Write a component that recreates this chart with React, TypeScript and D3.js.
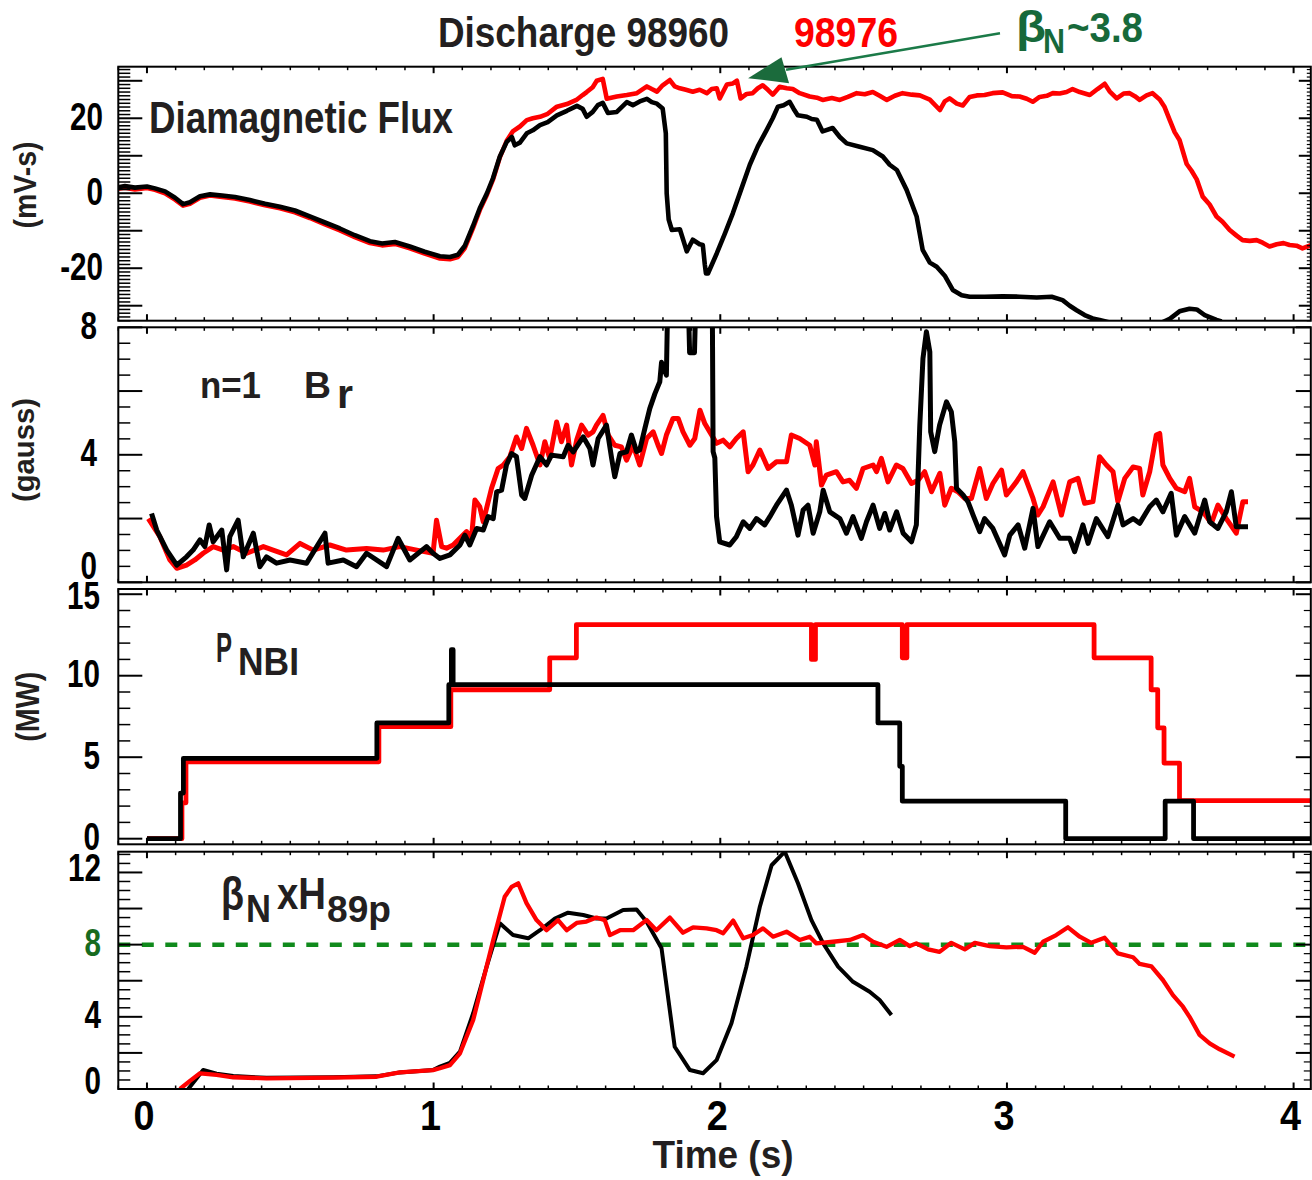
import React, { useEffect } from "react";
import * as d3 from "d3";

type Pt = [number, number];

// ---------- tick labels ----------
const TIME_TICKS = [0, 1, 2, 3, 4];
const DIA_TICKS = [-20, 0, 20];
const BR_TICKS = [0, 4, 8];
const PNBI_TICKS = [0, 5, 10, 15];
const BETA_TICKS = [0, 4, 8, 12];
const BETA_REF = 8;
const SHOT_A = "98960";
const SHOT_B = "98976";

// ---------- Diamagnetic flux (mV-s) ----------
const DIA_98960: Pt[] = [[-0.101,1.6],[-0.077,1.9],[-0.042,1.5],[0,1.8],[0.028,1.3],[0.063,0.5],[0.098,-1.2],[0.126,-2.9],[0.150,-2.4],[0.185,-0.8],[0.220,-0.3],[0.262,-0.6],[0.307,-1.0],[0.359,-1.8],[0.412,-2.8],[0.464,-3.6],[0.516,-4.6],[0.568,-6.2],[0.621,-7.8],[0.673,-9.4],[0.725,-11.2],[0.778,-12.8],[0.820,-13.4],[0.865,-13.0],[0.917,-14.2],[0.969,-15.6],[1.022,-16.8],[1.057,-17.0],[1.085,-16.4],[1.109,-14.0],[1.137,-8.8],[1.161,-4.0],[1.186,0],[1.207,4.0],[1.231,9.8],[1.255,13.7],[1.273,15.0],[1.283,12.8],[1.301,13.5],[1.325,16.0],[1.346,16.8],[1.371,18.2],[1.398,19.0],[1.430,20.8],[1.465,22.0],[1.500,23.3],[1.520,22.5],[1.534,20.4],[1.555,21.7],[1.573,23.5],[1.590,24.1],[1.608,21.4],[1.639,21.7],[1.674,24.3],[1.695,23.5],[1.719,24.5],[1.744,25.2],[1.761,24.3],[1.779,23.9],[1.799,22.6],[1.810,16.0],[1.813,0],[1.820,-7],[1.831,-9.8],[1.859,-9.6],[1.873,-13.0],[1.883,-15.5],[1.904,-12.4],[1.928,-13.6],[1.939,-13.8],[1.946,-19.0],[1.950,-21.4],[1.957,-21.4],[1.988,-16.0],[2.016,-10.8],[2.044,-5.3],[2.075,1.5],[2.103,7.6],[2.131,12.5],[2.162,16.9],[2.183,20.0],[2.201,23.1],[2.221,23.5],[2.242,24.4],[2.256,22.5],[2.270,20.8],[2.302,20.4],[2.319,19.8],[2.337,19.6],[2.357,16.5],[2.392,17.4],[2.417,15.0],[2.441,13.3],[2.486,12.4],[2.532,11.5],[2.567,9.8],[2.591,7.6],[2.616,6.2],[2.650,0.9],[2.685,-6.2],[2.706,-15.1],[2.731,-18.5],[2.755,-19.6],[2.783,-22.0],[2.811,-25.8],[2.842,-27.2],[2.870,-27.6],[2.922,-27.6],[2.985,-27.5],[3.044,-27.6],[3.104,-27.8],[3.156,-27.6],[3.194,-28.5],[3.219,-30.0],[3.243,-31.2],[3.271,-32.5],[3.299,-33.4],[3.323,-33.8],[3.358,-34.5],[3.428,-36],[3.498,-36],[3.540,-34.5],[3.568,-33.5],[3.602,-31.5],[3.637,-30.8],[3.662,-31.0],[3.690,-32.5],[3.731,-33.8],[3.749,-34.2]];

const DIA_98976: Pt[] = [[-0.101,1.2],[-0.077,1.5],[-0.042,1.0],[0,1.4],[0.028,0.9],[0.063,0.0],[0.098,-1.7],[0.126,-3.3],[0.150,-2.8],[0.185,-1.2],[0.220,-0.6],[0.262,-1.0],[0.307,-1.4],[0.359,-2.2],[0.412,-3.2],[0.464,-4.0],[0.516,-5.1],[0.568,-6.6],[0.621,-8.3],[0.673,-9.9],[0.725,-11.7],[0.778,-13.3],[0.820,-13.9],[0.865,-13.5],[0.917,-14.7],[0.969,-16.1],[1.022,-17.4],[1.057,-17.6],[1.085,-17.0],[1.109,-14.6],[1.137,-9.4],[1.161,-4.5],[1.186,-0.4],[1.207,3.6],[1.231,9.6],[1.255,14.0],[1.276,16.5],[1.301,17.8],[1.325,19.5],[1.346,20.0],[1.371,20.4],[1.398,21.2],[1.430,23.1],[1.465,23.8],[1.500,25.0],[1.520,26.2],[1.534,27.0],[1.555,28.3],[1.569,30.0],[1.590,30.5],[1.604,25.2],[1.639,25.8],[1.674,26.2],[1.709,26.7],[1.744,28.5],[1.761,27.8],[1.779,27.1],[1.799,28.8],[1.824,30.2],[1.841,28.5],[1.859,28.0],[1.880,27.6],[1.904,27.1],[1.928,27.6],[1.953,26.7],[1.970,27.8],[1.988,28.0],[1.998,25.3],[2.023,29.0],[2.044,29.3],[2.058,30.0],[2.071,25.3],[2.092,26.5],[2.113,26.7],[2.131,28.0],[2.148,28.8],[2.166,27.6],[2.183,26.3],[2.207,28.4],[2.232,28.0],[2.253,27.8],[2.277,26.7],[2.312,25.8],[2.337,25.5],[2.357,24.9],[2.389,25.4],[2.417,24.9],[2.445,25.7],[2.476,26.7],[2.504,26.4],[2.532,27.0],[2.556,26.0],[2.581,24.9],[2.609,26.0],[2.636,26.7],[2.668,26.3],[2.696,26.1],[2.731,25.0],[2.766,22.2],[2.783,24.5],[2.800,25.3],[2.825,23.9],[2.846,23.4],[2.870,25.7],[2.895,26.1],[2.922,26.2],[2.950,26.7],[2.985,26.9],[3.017,25.9],[3.044,25.8],[3.069,25.2],[3.090,24.4],[3.114,25.7],[3.139,26.0],[3.160,26.7],[3.184,26.6],[3.208,27.0],[3.229,27.8],[3.254,27.0],[3.289,26.2],[3.316,27.8],[3.341,29.2],[3.358,27.2],[3.383,25.3],[3.407,26.6],[3.428,26.7],[3.446,25.9],[3.463,24.9],[3.487,26.1],[3.508,26.7],[3.533,25.0],[3.550,23.0],[3.568,19.5],[3.585,16.3],[3.602,14.2],[3.616,10.6],[3.627,7.8],[3.644,6.0],[3.662,3.7],[3.683,-0.9],[3.707,-3.0],[3.731,-6.2],[3.752,-7.6],[3.777,-9.8],[3.801,-11.3],[3.822,-12.5],[3.847,-12.7],[3.871,-12.5],[3.892,-13.2],[3.916,-14.2],[3.941,-13.6],[3.965,-13.3],[3.986,-13.8],[4.010,-14.0],[4.031,-14.7],[4.063,-13.8]];

// ---------- n=1 Br (gauss) ----------
const BR_98960: Pt[] = [[0.016,2.16],[0.034,1.64],[0.069,1.01],[0.104,0.54],[0.138,0.80],[0.161,1.01],[0.185,1.33],[0.202,1.12],[0.217,1.80],[0.231,1.27],[0.261,1.64],[0.278,0.39],[0.289,1.43],[0.318,1.95],[0.336,0.80],[0.371,1.54],[0.394,0.49],[0.417,0.80],[0.452,0.60],[0.499,0.70],[0.557,0.60],[0.621,1.54],[0.632,0.60],[0.685,0.70],[0.731,0.49],[0.766,0.91],[0.836,0.49],[0.876,1.38],[0.917,0.70],[0.975,1.12],[0.998,0.91],[1.022,0.75],[1.057,0.86],[1.092,1.17],[1.109,1.48],[1.126,1.17],[1.150,1.69],[1.173,1.64],[1.190,2.06],[1.208,2.00],[1.220,2.84],[1.237,2.89],[1.254,3.68],[1.272,4.04],[1.289,3.94],[1.307,2.74],[1.318,2.63],[1.342,3.36],[1.371,3.94],[1.394,3.68],[1.411,3.99],[1.452,3.94],[1.469,4.30],[1.487,4.09],[1.522,4.56],[1.545,4.20],[1.556,3.68],[1.574,4.51],[1.603,4.93],[1.621,3.89],[1.632,3.31],[1.650,4.04],[1.673,4.09],[1.690,4.62],[1.708,4.10],[1.719,4.15],[1.737,4.83],[1.754,5.45],[1.772,5.92],[1.789,6.29],[1.795,6.90],[1.812,6.50],[1.817,9.0],[1.859,9.5],[1.888,9.0],[1.893,7.2],[1.910,7.2],[1.915,9.0],[1.956,9.5],[1.972,9.0],[1.975,4.10],[1.981,3.90],[1.987,2.06],[1.998,1.27],[2.033,1.17],[2.056,1.43],[2.080,1.90],[2.103,1.69],[2.126,2.00],[2.155,1.80],[2.173,2.06],[2.196,2.42],[2.231,2.89],[2.248,2.42],[2.271,1.48],[2.289,2.27],[2.306,2.42],[2.324,1.54],[2.347,2.21],[2.359,2.89],[2.382,2.21],[2.417,2.00],[2.440,1.54],[2.463,2.06],[2.492,1.38],[2.510,1.90],[2.533,2.42],[2.556,1.69],[2.574,2.16],[2.591,1.64],[2.615,2.21],[2.638,1.54],[2.667,1.27],[2.684,1.80],[2.696,4.93],[2.707,7.02],[2.719,7.86],[2.731,7.23],[2.734,4.72],[2.748,4.10],[2.765,4.93],[2.789,5.66],[2.806,5.35],[2.818,4.41],[2.824,2.95],[2.847,2.74],[2.864,2.53],[2.882,2.11],[2.905,1.59],[2.922,2.00],[2.951,1.69],[2.992,0.86],[3.010,1.48],[3.039,1.80],[3.062,1.07],[3.091,2.32],[3.108,1.12],[3.149,1.90],[3.184,1.38],[3.219,1.38],[3.236,0.96],[3.265,1.80],[3.283,1.22],[3.312,2.00],[3.352,1.43],[3.387,2.42],[3.405,1.80],[3.440,2.00],[3.463,1.85],[3.498,2.37],[3.521,2.58],[3.544,2.21],[3.573,2.79],[3.591,1.48],[3.620,2.06],[3.655,1.54],[3.690,2.58],[3.707,1.90],[3.736,1.69],[3.765,2.21],[3.783,2.84],[3.800,1.74],[3.841,1.74]];

const BR_98976: Pt[] = [[0.005,2.00],[0.045,1.43],[0.080,0.70],[0.104,0.44],[0.138,0.54],[0.167,0.70],[0.196,0.91],[0.231,1.12],[0.266,1.01],[0.301,1.12],[0.348,0.91],[0.406,1.12],[0.440,1.01],[0.487,0.86],[0.534,1.22],[0.580,1.01],[0.638,1.17],[0.696,1.01],[0.766,1.06],[0.824,1.01],[0.882,1.12],[0.941,1.01],[0.998,0.91],[1.010,1.95],[1.028,1.12],[1.045,1.07],[1.068,1.17],[1.115,1.59],[1.132,1.38],[1.144,2.58],[1.161,2.37],[1.173,1.90],[1.202,2.95],[1.225,3.57],[1.243,3.68],[1.266,3.94],[1.289,4.56],[1.307,4.20],[1.324,4.83],[1.347,4.30],[1.371,3.68],[1.388,4.41],[1.405,3.89],[1.429,5.03],[1.446,4.41],[1.464,4.93],[1.481,3.68],[1.499,4.46],[1.516,4.93],[1.539,4.62],[1.556,4.72],[1.568,4.93],[1.591,5.24],[1.609,4.62],[1.632,4.30],[1.655,4.25],[1.673,3.83],[1.696,4.30],[1.719,3.68],[1.743,4.51],[1.766,4.72],[1.783,4.30],[1.795,4.04],[1.812,4.62],[1.835,5.14],[1.853,5.14],[1.870,4.72],[1.894,4.30],[1.911,4.51],[1.929,5.40],[1.946,4.98],[1.963,4.72],[1.987,4.36],[2.010,4.46],[2.033,4.25],[2.056,4.51],[2.080,4.72],[2.097,3.47],[2.114,3.68],[2.138,4.15],[2.167,3.57],[2.196,3.78],[2.231,3.78],[2.248,4.62],[2.277,4.51],[2.312,4.30],[2.330,3.68],[2.335,4.41],[2.353,3.05],[2.370,3.36],[2.405,3.47],[2.428,3.15],[2.451,3.20],[2.475,2.95],[2.498,3.57],[2.533,3.68],[2.545,3.47],[2.562,3.89],[2.585,3.15],[2.614,3.68],[2.637,3.57],[2.667,3.10],[2.690,3.20],[2.713,3.47],[2.737,2.84],[2.766,3.42],[2.783,2.42],[2.806,2.95],[2.829,2.84],[2.853,2.63],[2.876,2.63],[2.905,3.57],[2.928,2.63],[2.951,3.10],[2.981,3.52],[2.998,2.74],[3.033,3.15],[3.056,3.47],[3.091,2.63],[3.108,2.11],[3.126,2.37],[3.161,3.15],[3.190,2.11],[3.219,3.15],[3.248,3.26],[3.271,2.48],[3.300,2.53],[3.323,3.94],[3.347,3.68],[3.370,3.47],[3.387,2.53],[3.411,3.26],[3.440,3.62],[3.463,3.57],[3.474,2.74],[3.498,3.47],[3.521,4.62],[3.533,4.67],[3.544,3.68],[3.568,3.26],[3.591,2.95],[3.620,2.84],[3.637,3.26],[3.655,2.37],[3.684,2.21],[3.713,1.85],[3.736,2.42],[3.765,2.00],[3.800,1.54],[3.823,2.53],[3.841,2.53]];

// ---------- P_NBI (MW), step-after ----------
const PNBI_98960: Pt[] = [[0,0],[0.117,2.8],[0.127,4.93],[0.802,7.1],[1.053,9.45],[1.062,11.6],[1.068,9.45],[2.550,7.1],[2.626,4.44],[2.635,2.3],[3.205,0],[3.552,2.3],[3.651,0],[4.063,0]];
const PNBI_98976: Pt[] = [[0,0],[0.122,2.2],[0.136,4.72],[0.809,6.87],[1.060,9.14],[1.405,11.1],[1.498,13.13],[2.318,11.0],[2.332,13.13],[2.635,11.1],[2.651,13.13],[3.304,11.1],[3.503,9.14],[3.526,6.8],[3.548,4.64],[3.602,2.33],[4.063,2.33]];

// ---------- beta_N x H89p ----------
const BETAH_98960: Pt[] = [[0.144,0],[0.196,1.05],[0.243,0.85],[0.301,0.72],[0.417,0.62],[0.650,0.65],[0.801,0.70],[0.882,0.92],[0.998,1.05],[1.022,1.24],[1.057,1.45],[1.092,2.07],[1.138,4.20],[1.185,6.78],[1.231,9.18],[1.277,8.53],[1.330,8.35],[1.371,8.80],[1.423,9.45],[1.469,9.77],[1.522,9.64],[1.568,9.45],[1.603,9.45],[1.661,9.92],[1.708,9.95],[1.743,9.27],[1.795,7.80],[1.841,2.34],[1.894,1.05],[1.940,0.87],[1.987,1.60],[2.039,3.64],[2.091,6.78],[2.138,10.1],[2.179,12.4],[2.225,13.15],[2.271,11.4],[2.318,9.36],[2.359,8.07],[2.411,6.78],[2.463,5.94],[2.521,5.39],[2.556,4.93],[2.597,4.10]];
const BETAH_98976: Pt[] = [[0.115,0],[0.150,0.45],[0.185,0.87],[0.243,0.78],[0.301,0.65],[0.417,0.59],[0.650,0.63],[0.801,0.68],[0.882,0.92],[0.998,1.05],[1.022,1.15],[1.057,1.32],[1.092,1.98],[1.138,3.82],[1.173,6.04],[1.208,8.26],[1.248,10.65],[1.272,11.2],[1.295,11.4],[1.324,10.3],[1.359,9.36],[1.394,8.80],[1.434,9.36],[1.464,8.80],[1.499,9.20],[1.533,9.28],[1.568,9.50],[1.597,9.36],[1.615,8.53],[1.650,8.80],[1.696,8.80],[1.743,9.36],[1.777,8.80],[1.824,9.50],[1.870,8.66],[1.905,8.96],[1.952,8.90],[1.987,8.80],[2.010,8.63],[2.045,9.33],[2.080,8.35],[2.114,8.53],[2.149,8.90],[2.184,8.44],[2.231,8.72],[2.277,8.26],[2.312,8.44],[2.335,8.07],[2.393,8.16],[2.452,8.26],[2.498,8.53],[2.533,8.16],[2.580,7.88],[2.626,8.26],[2.661,7.92],[2.684,8.07],[2.725,7.74],[2.765,7.60],[2.806,8.10],[2.853,7.74],[2.888,8.10],[2.940,7.92],[2.998,7.85],[3.056,7.88],[3.097,7.55],[3.126,8.16],[3.172,8.53],[3.213,8.96],[3.254,8.44],[3.294,8.10],[3.341,8.38],[3.387,7.52],[3.440,7.30],[3.463,6.93],[3.504,6.80],[3.544,6.04],[3.579,5.20],[3.614,4.56],[3.637,4.00],[3.672,3.00],[3.707,2.53],[3.742,2.20],[3.794,1.79]];

// annotation: arrow tip at the high-beta point of 98976 (time, mV-s)
const ARROW_TIP: Pt = [2.097, 30.7];

const FONT = "'Liberation Sans', Arial, Helvetica, sans-serif";
const INK = "#231f20";
const RED = "#ff0000";
const DKGREEN = "#17693a";

type Series = { data: Pt[]; color: string; width: number; step?: boolean };

function Txt(props: { x: number; y: number; size: number; w?: number; fill?: string; anchor?: string; children: React.ReactNode; transform?: string }) {
  const { x, y, size, w, fill = INK, anchor = "start", children, transform } = props;
  return (
    <text x={x} y={y} fontSize={size} fontFamily={FONT} fontWeight="bold" fill={fill}
      textAnchor={anchor as any} textLength={w} lengthAdjust={w ? "spacingAndGlyphs" : undefined} transform={transform}>
      {children}
    </text>
  );
}

export default function App() {
  useEffect(() => {
    document.body.style.margin = "0";
  }, []);

  const X0 = 118.3, X1 = 1310.8;
  const x = d3.scaleLinear().domain([-0.1, 4.06]).range([X0, X1]);

  const panels = [
    { id: "p1", top: 66.7, bottom: 320.7, domain: [-34, 33.76], minor: 1, major: 10, ticks: DIA_TICKS, labelRight: 103, bottomShift: 0, topShift: 0,
      rMajor: 12, rMinor: 4,
      series: [{ data: DIA_98976, color: RED, width: 4.6 }, { data: DIA_98960, color: "#000", width: 4.6 }] as Series[] },
    { id: "p2", top: 327.3, bottom: 582.3, domain: [0, 8], minor: 0.5, major: 2, ticks: BR_TICKS, labelRight: 97, bottomShift: -17, topShift: 0,
      rMajor: 15, rMinor: 7,
      series: [{ data: BR_98976, color: RED, width: 5 }, { data: BR_98960, color: "#000", width: 5 }] as Series[] },
    { id: "p3", top: 589, bottom: 844.3, domain: [-0.344, 15.32], minor: 1, major: 5, ticks: PNBI_TICKS, labelRight: 100, bottomShift: 0, topShift: 3,
      rMajor: 15, rMinor: 7,
      series: [{ data: PNBI_98976, color: RED, width: 4.8, step: true }, { data: PNBI_98960, color: "#000", width: 4.8, step: true }] as Series[] },
    { id: "p4", top: 851.7, bottom: 1089, domain: [0, 13.15], minor: 0.5, major: 2, ticks: BETA_TICKS, labelRight: 101, bottomShift: -9, topShift: -3,
      rMajor: 15, rMinor: 7,
      series: [{ data: BETAH_98960, color: "#000", width: 4 }, { data: BETAH_98976, color: RED, width: 4.3 }] as Series[] },
  ];

  const xMinor: number[] = d3.range(-1, 41).map((i) => i / 10);

  const yP1 = d3.scaleLinear().domain(panels[0].domain).range([panels[0].bottom, panels[0].top]);
  const tipX = x(ARROW_TIP[0]);
  const tipY = yP1(ARROW_TIP[1]);

  return (
    <svg width={1312} height={1180} style={{ position: "absolute", left: 0, top: 0, display: "block", background: "#fff" }}>
      <rect x={0} y={0} width={1312} height={1180} fill="#fff" />
      <defs>
        {panels.map((p) => (
          <clipPath id={`clip-${p.id}`} key={p.id}>
            <rect x={X0} y={p.top} width={X1 - X0} height={p.bottom - p.top} />
          </clipPath>
        ))}
      </defs>

      {panels.map((p, pi) => {
        const y = d3.scaleLinear().domain(p.domain).range([p.bottom, p.top]);
        const n0 = Math.ceil(p.domain[0] / p.minor - 1e-9);
        const n1 = Math.floor(p.domain[1] / p.minor + 1e-9);
        const yTicks = d3.range(n0, n1 + 1).map((i) => i * p.minor);
        const maxTick = Math.max(...p.ticks);
        return (
          <g key={p.id}>
            {pi === 3 && (
              <line x1={X0} x2={X1} y1={y(BETA_REF)} y2={y(BETA_REF)} stroke="#108a1c" strokeWidth={4.5} strokeDasharray="12 11.5" />
            )}
            <g clipPath={`url(#clip-${p.id})`}>
              {p.series.map((s, si) => {
                const gen = d3.line<Pt>().x((d) => x(d[0])).y((d) => y(d[1]));
                if (s.step) gen.curve(d3.curveStepAfter);
                return (
                  <path key={si} d={gen(s.data) || ""} fill="none" stroke={s.color} strokeWidth={s.width}
                    strokeLinejoin="round" strokeLinecap="butt" />
                );
              })}
            </g>
            <rect x={X0} y={p.top} width={X1 - X0} height={p.bottom - p.top} fill="none" stroke="#000" strokeWidth={2} />
            {yTicks.map((v, i) => {
              const isMajor = Math.abs(v / p.major - Math.round(v / p.major)) < 1e-6;
              const yy = y(v);
              return (
                <g key={i}>
                  <line x1={X0} x2={X0 + (isMajor ? 24 : 12)} y1={yy} y2={yy} stroke="#000" strokeWidth={isMajor ? 2 : 1.5} />
                  <line x1={X1} x2={X1 - (isMajor ? p.rMajor : p.rMinor)} y1={yy} y2={yy} stroke="#000" strokeWidth={isMajor ? 2 : 1.2} />
                </g>
              );
            })}
            {xMinor.map((t, i) => {
              const isMajor = Math.abs(t - Math.round(t)) < 1e-6;
              const xx = x(t);
              const L = isMajor ? 6.5 : 3.5;
              return (
                <g key={i}>
                  <line x1={xx} x2={xx} y1={p.top} y2={p.top + L} stroke="#000" strokeWidth={isMajor ? 2 : 1.5} />
                  <line x1={xx} x2={xx} y1={p.bottom} y2={p.bottom - L} stroke="#000" strokeWidth={isMajor ? 2 : 1.5} />
                </g>
              );
            })}
            {p.ticks.map((v) => {
              const yy = y(v);
              let c = yy - 2;
              if (p.bottomShift && Math.abs(yy - p.bottom) < 1) c = p.bottom + p.bottomShift;
              if (v === maxTick) c += p.topShift;
              const fill = pi === 3 && v === BETA_REF ? "#176b1f" : "#000";
              return (
                <text key={v} transform={`translate(${p.labelRight},${c + 13.5}) scale(0.78,1)`} textAnchor="end"
                  fontSize={38} fontFamily={FONT} fontWeight="bold" fill={fill}>
                  {String(v)}
                </text>
              );
            })}
          </g>
        );
      })}

      {TIME_TICKS.map((t) => (
        <text key={t} transform={`translate(${x(t) - 3},1130) scale(0.9,1)`} textAnchor="middle" fontSize={42}
          fontFamily={FONT} fontWeight="bold" fill="#000">
          {String(t)}
        </text>
      ))}
      <Txt x={723} y={1168} size={38} w={141} anchor="middle">Time (s)</Txt>

      <Txt x={0} y={0} size={31} w={87} anchor="middle" transform="translate(35.5,185) rotate(-90)">(mV-s)</Txt>
      <Txt x={0} y={0} size={30} w={104} anchor="middle" transform="translate(34,450) rotate(-90)">(gauss)</Txt>
      <Txt x={0} y={0} size={33} w={70} anchor="middle" transform="translate(38.5,706.7) rotate(-90)">(MW)</Txt>

      <Txt x={149} y={132.7} size={45} w={304}>Diamagnetic Flux</Txt>
      <Txt x={200} y={398.3} size={37} w={61}>n=1</Txt>
      <Txt x={304} y={398} size={36} w={27}>B</Txt>
      <Txt x={337} y={408} size={40} w={16}>r</Txt>
      <Txt x={216} y={661.7} size={42} w={16}>P</Txt>
      <Txt x={238} y={675} size={38} w={61}>NBI</Txt>
      <Txt x={221} y={910.3} size={46} w={23}>β</Txt>
      <Txt x={246} y={921.7} size={39.5} w={25}>N</Txt>
      <Txt x={277} y={909.3} size={45} w={49}>xH</Txt>
      <Txt x={327} y={921.7} size={37} w={64}>89p</Txt>

      <Txt x={438} y={46.7} size={42} w={291}>{`Discharge ${SHOT_A}`}</Txt>
      <Txt x={794} y={46.7} size={42} w={104} fill={RED}>{SHOT_B}</Txt>
      <Txt x={1016} y={41.7} size={44} w={30} fill={DKGREEN}>β</Txt>
      <Txt x={1043} y={53.3} size={35} w={22} fill={DKGREEN}>N</Txt>
      <Txt x={1067} y={41.7} size={42} w={76} fill={DKGREEN}>~3.8</Txt>

      <line x1={1000} y1={33.3} x2={tipX + 38} y2={tipY - 8.5} stroke="#1b7a48" strokeWidth={2.6} />
      <polygon points={`${tipX},${tipY} ${tipX + 33.4},${tipY - 21} ${tipX + 41},${tipY + 5}`} fill="#1b6b3c" />
    </svg>
  );
}
